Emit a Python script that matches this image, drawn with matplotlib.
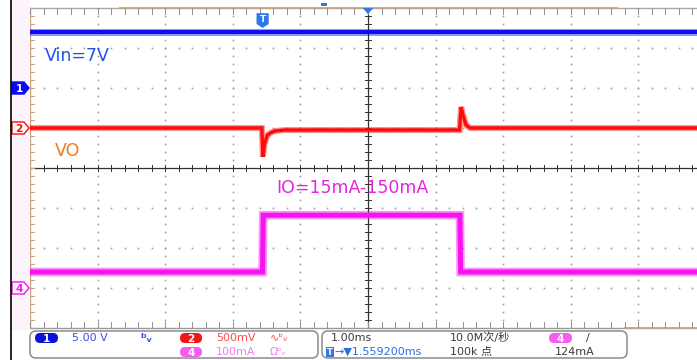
import numpy as np
import matplotlib.pyplot as plt
from matplotlib.patches import Polygon, FancyBboxPatch, Rectangle

# ── Scope settings ────────────────────────────────────────────────────────────
T_DIV = 1.0          # ms/div
CH1_SCALE = 5.0      # V/div
CH2_SCALE = 500.0    # mV/div
CH4_SCALE = 100.0    # mA/div
CH1_POS, CH2_POS, CH4_POS = 2.0, 1.0, -3.0   # ground markers, div
TRIG_T = -1.5592     # ms

# ── Traces ────────────────────────────────────────────────────────────────────
vin_t = [-5.0, 4.87]
vin_v = [7.0, 7.0]

vo_t = [-5.0, -1.57, -1.555, -1.53, -1.49, -1.43, -1.37, -1.23,
        1.355, 1.365, 1.378, 1.405, 1.45, 1.51, 4.87]
vo_mv = [0, 0, -360, -200, -90, -55, -37, -25,
         -25, 120, 262, 162, 37, 0, 0]

io_t = [-5.0, -1.56, -1.55, 1.36, 1.37, 4.87]
io_ma = [40, 40, 182, 182, 40, 40]

BLUE = "#0a0af5"
RED = "#ff0a0a"
MAG = "#f514f0"
GRID = "#a0a0a0"
TAN = "#c9a582"
FONT = ["DejaVu Sans", "Noto Sans CJK SC"]

# pixel geometry of the graticule
PX_DIV_X, PX_DIV_Y = 67.6, 40.0
X0, Y0 = 368, 168
LEFT, TOP, BOTTOM = 30, 8, 328

fig = plt.figure(figsize=(6.97, 3.6), dpi=100, facecolor="white")
ax = fig.add_axes([LEFT / 697, (360 - BOTTOM) / 360, (697 - LEFT) / 697,
                   (BOTTOM - TOP) / 360], zorder=1)
xmin, xmax = -5.0, -5.0 + (697 - LEFT) / PX_DIV_X
ax.set_xlim(xmin, xmax)
ax.set_ylim(-4, 4)
ax.axis("off")


def px_to_t(px):
    return (px - X0) / PX_DIV_X


# ── Graticule ─────────────────────────────────────────────────────────────────
minor_x = np.arange(-5, 5.01, 0.2)
minor_y = np.arange(-4, 4.01, 0.2)
for gy in [-3, -2, -1, 1, 2, 3]:
    ax.plot(minor_x, np.full_like(minor_x, gy), ls="none", marker="s",
            ms=1.2, color=GRID, mew=0)
for gx in [-4, -3, -2, -1, 1, 2, 3, 4]:
    ax.plot(np.full_like(minor_y, gx), minor_y, ls="none", marker="s",
            ms=1.2, color=GRID, mew=0)

# centre cross with ticks
ax.axvline(0, color="#303030", lw=0.9)
ax.axhline(0, color="#303030", lw=0.9)
tx = 3 / PX_DIV_X
ty = 3 / PX_DIV_Y
for y in minor_y:
    ax.plot([-tx, tx], [y, y], color="#303030", lw=0.7)
for x in minor_x:
    ax.plot([x, x], [-ty, ty], color="#303030", lw=0.7)

# borders with inward ticks
ax.plot([xmin, xmax], [4, 4], color="#a8a8a8", lw=1.0, clip_on=False)
ax.plot([px_to_t(120), px_to_t(617)], [4, 4], color=TAN, lw=1.3, clip_on=False)
ax.plot([xmin, xmax], [-4, -4], color="#9a9a9a", lw=1.0, clip_on=False)
ax.plot([px_to_t(625), xmax], [-4, -4], color=TAN, lw=1.3, clip_on=False)
ax.plot([xmin, xmin], [-4, 4], color=TAN, lw=1.0, clip_on=False)
for x in minor_x:
    ax.plot([x, x], [4, 4 - 2 * ty], color="#909090", lw=0.7)
    ax.plot([x, x], [-4, -4 + 2 * ty], color="#909090", lw=0.7)
for y in minor_y:
    ax.plot([xmin, xmin + 1.3 * tx], [y, y], color=TAN, lw=0.8)

# ── Traces ────────────────────────────────────────────────────────────────────
vin_div = CH1_POS + np.array(vin_v) / CH1_SCALE
vo_div = CH2_POS + np.array(vo_mv) / CH2_SCALE
io_div = CH4_POS + np.array(io_ma) / CH4_SCALE

for t, y, c, wide, core in [(io_t, io_div, MAG, 6.2, 3.6),
                            (vo_t, vo_div, RED, 4.3, 2.4),
                            (vin_t, vin_div, BLUE, 5.0, 2.8)]:
    ax.plot(t, y, color=c, lw=wide, alpha=0.45, solid_joinstyle="miter")
    ax.plot(t, y, color=c, lw=core, solid_joinstyle="miter")

# annotations
ax.text(-4.78, 2.8, "Vin=7V", color="#2452e6", fontsize=12.5, va="center",
        family=FONT)
ax.text(-4.63, 0.42, "VO", color="#f07a1e", fontsize=12.5, va="center",
        family=FONT)
ax.text(-1.35, -0.5, "IO=15mA-150mA", color="#e524e0", fontsize=12.5,
        va="center", family=FONT)

# trigger marker and centre marker
ax.add_patch(Polygon([[TRIG_T - 0.09, 3.87], [TRIG_T + 0.09, 3.87],
                      [TRIG_T + 0.09, 3.6], [TRIG_T, 3.5],
                      [TRIG_T - 0.09, 3.6]], closed=True,
                     fc="#2f78e8", ec="none", clip_on=False, zorder=5))
ax.text(TRIG_T, 3.7, "T", color="white", fontsize=6.5, fontweight="bold",
        ha="center", va="center", family=FONT, zorder=6)
ax.add_patch(Polygon([[-0.08, 4.0], [0.08, 4.0], [0, 3.85]], closed=True,
                     fc="#2f78e8", ec="none", clip_on=False, zorder=5))

# ── Overlay in pixel coordinates ──────────────────────────────────────────────
ov = fig.add_axes([0, 0, 1, 1], zorder=2)
ov.set_xlim(0, 697)
ov.set_ylim(360, 0)
ov.axis("off")
ov.patch.set_alpha(0)

ov.add_patch(Rectangle((11, 0), 19, 330, fc="#fcf3fc", ec="none"))
ov.plot([11, 11], [0, 360], color="black", lw=1.2)
ov.add_patch(Rectangle((321, 3), 6, 3, fc="#2f78e8", ec="none"))


def to_py(div):
    return Y0 - div * PX_DIV_Y


# channel ground markers
for pos, label, fill, edge in [(CH1_POS, "1", BLUE, BLUE),
                               (CH2_POS, "2", "white", RED),
                               (CH4_POS, "4", "white", MAG)]:
    py = to_py(pos)
    ov.add_patch(Polygon([[12, py - 6], [24, py - 6], [29, py], [24, py + 6],
                          [12, py + 6]], closed=True, fc=fill, ec=edge, lw=1.0))
    ov.text(19, py + 0.5, label, color="white" if fill != "white" else edge,
            fontsize=7.5, fontweight="bold", ha="center", va="center",
            family=FONT)

# status bar boxes
for x0, x1 in [(30, 318), (322, 627)]:
    ov.add_patch(FancyBboxPatch((x0, 331), x1 - x0, 27,
                                boxstyle="round,pad=0,rounding_size=6",
                                fc="white", ec="#8c8c8c", lw=1.1))


def pill(x, y, w, label, color):
    ov.add_patch(FancyBboxPatch((x, y - 5), w, 10,
                                boxstyle="round,pad=0,rounding_size=5",
                                fc=color, ec="none"))
    ov.text(x + w / 2, y + 0.5, label, color="white", fontsize=7.5,
            fontweight="bold", ha="center", va="center", family=FONT)


R1, R2 = 338, 352
pill(35, R1, 23, "1", "#0a14d8")
pill(180, R1, 22, "2", "#f01414")
pill(180, R2, 22, "4", "#f55cf0")
pill(549, R1, 23, "4", "#f55cf0")

st = dict(fontsize=8, va="center", family=FONT)
ov.text(72, R1, "5.00 V", color="#3a50e0", **st)
ov.text(140, R1, "ᵇᵥ", color="#3a50e0", fontsize=9, va="center",
        family=FONT, fontweight="bold")
ov.text(216, R1, "500mV", color="#ff4a4a", **st)
ov.text(270, R1, "∿ᵇᵥ", color="#ff4a4a", fontsize=8, va="center", family=FONT)
ov.text(216, R2, "100mA", color="#f878f5", **st)
ov.text(270, R2, "Ωᵇᵥ", color="#f878f5", fontsize=7.5, va="center",
        family=FONT)

ov.text(331, R1, "1.00ms", color="#3c3c3c", **st)
ov.text(450, R1, "10.0M次/秒", color="#3c3c3c", **st)
ov.text(586, R1, "/", color="#3c3c3c", **st)
ov.add_patch(Rectangle((326, R2 - 5), 8, 10, fc="#2f78e8", ec="none"))
ov.text(330, R2 + 0.5, "T", color="white", fontsize=6, fontweight="bold",
        ha="center", va="center", family=FONT)
ov.text(334, R2, "→▼1.559200ms", color="#2a6ee0", **st)
ov.text(450, R2, "100k 点", color="#3c3c3c", **st)
ov.text(555, R2, "124mA", color="#3c3c3c", **st)

fig.savefig("out.png", dpi=100, facecolor="white")
plt.close(fig)
